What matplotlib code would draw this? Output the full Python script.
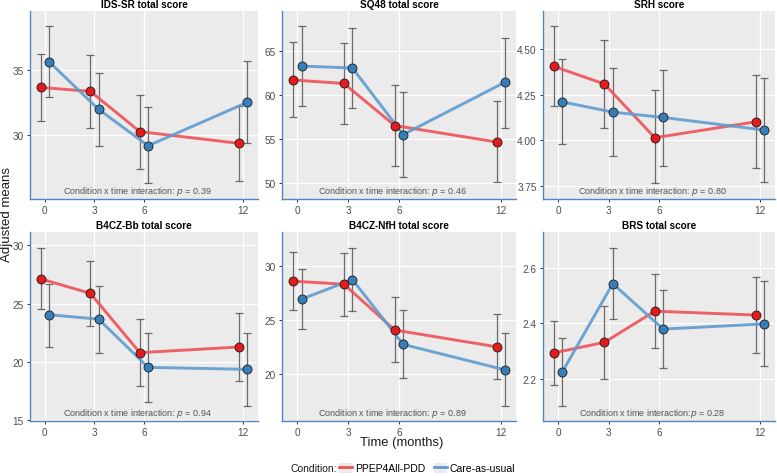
import matplotlib
matplotlib.use("Agg")
import matplotlib.pyplot as plt
from matplotlib.lines import Line2D
from matplotlib.patches import Patch
import numpy as np

plt.rcParams['font.family'] = ['Liberation Sans', 'DejaVu Sans']

times = [0, 3, 6, 12]
titles = ["IDS-SR total score", "SQ48 total score", "SRH score",
          "B4CZ-Bb total score", "B4CZ-NfH total score", "BRS total score"]
pvals = ["0.39", "0.46", "0.80", "0.94", "0.89", "0.28"]

# PPEP4All-PDD (red): mean, lower, upper
ppep_mean = [[33.65, 33.35, 30.28, 29.39],
             [61.76, 61.36, 56.58, 54.71],
             [4.404, 4.308, 4.014, 4.101],
             [27.13, 25.89, 20.80, 21.29],
             [28.60, 28.32, 24.05, 22.49],
             [2.293, 2.331, 2.444, 2.430]]
ppep_lo = [[31.1, 30.58, 27.46, 26.55],
           [57.5, 56.79, 51.98, 50.11],
           [4.187, 4.065, 3.766, 3.846],
           [24.54, 23.05, 17.93, 18.39],
           [25.92, 25.33, 21.09, 19.47],
           [2.178, 2.200, 2.310, 2.292]]
ppep_hi = [[36.19, 36.12, 33.10, 32.26],
           [66.06, 65.94, 61.17, 59.34],
           [4.627, 4.551, 4.274, 4.355],
           [29.77, 28.65, 23.68, 24.20],
           [31.31, 31.25, 27.10, 25.55],
           [2.410, 2.461, 2.577, 2.567]]
# Care-as-usual (blue)
cau_mean = [[35.61, 31.98, 29.21, 32.51],
            [63.34, 63.12, 55.56, 61.50],
            [4.210, 4.154, 4.125, 4.056],
            [24.05, 23.68, 19.54, 19.37],
            [26.92, 28.75, 22.71, 20.34],
            [2.224, 2.544, 2.379, 2.398]]
cau_lo = [[32.94, 29.19, 26.35, 29.42],
          [58.82, 58.52, 50.70, 56.34],
          [3.980, 3.913, 3.859, 3.774],
          [21.32, 20.80, 16.55, 16.21],
          [24.14, 25.79, 19.56, 16.98],
          [2.101, 2.416, 2.239, 2.244]]
cau_hi = [[38.35, 34.75, 32.18, 35.63],
          [67.94, 67.72, 60.38, 66.50],
          [4.442, 4.397, 4.386, 4.342],
          [26.70, 26.52, 22.53, 22.53],
          [29.75, 31.71, 25.89, 23.74],
          [2.347, 2.674, 2.521, 2.553]]

yticks = [[30, 35], [50, 55, 60, 65], [3.75, 4.00, 4.25, 4.50],
          [15, 20, 25, 30], [20, 25, 30], [2.2, 2.4, 2.6]]
yticklabels = [["30", "35"], ["50", "55", "60", "65"],
               ["3.75", "4.00", "4.25", "4.50"],
               ["15", "20", "25", "30"], ["20", "25", "30"],
               ["2.2", "2.4", "2.6"]]
ylims = [(25.15, 39.47), (48.23, 69.6), (3.679, 4.707),
         (14.94, 31.15), (15.58, 33.18), (2.046, 2.731)]

group_names = ["PPEP4All-PDD", "Care-as-usual"]
red_pt, blue_pt = "#E41A1C", "#377EB8"
red_ln, blue_ln = "#EE5257", "#5F9BCF"

W, H = 777, 477
fig = plt.figure(figsize=(W / 100, H / 100), dpi=100)

cols = [(30, 258), (282, 516), (543, 775)]
rows = [(12, 200), (233, 422)]

dodge = 0.25
for i in range(6):
    r, c = divmod(i, 3)
    x0, x1 = cols[c]
    yt, yb = rows[r]
    ax = fig.add_axes([x0 / W, 1 - yb / H, (x1 - x0) / W, (yb - yt) / H])
    ax.set_facecolor("#EBEBEB")
    ax.grid(True, color="white", linewidth=0.9)
    ax.set_axisbelow(True)
    for s in ["top", "right"]:
        ax.spines[s].set_visible(False)
    for s in ["left", "bottom"]:
        ax.spines[s].set_color("#4F87C2")
        ax.spines[s].set_linewidth(1.0)
    t = np.array(times, dtype=float)
    series = [(t - dodge, ppep_mean[i], ppep_lo[i], ppep_hi[i], red_pt, red_ln),
              (t + dodge, cau_mean[i], cau_lo[i], cau_hi[i], blue_pt, blue_ln)]
    for xs, m, lo, hi, pc, lc in series:
        m = np.array(m); lo = np.array(lo); hi = np.array(hi)
        ax.errorbar(xs, m, yerr=[m - lo, hi - m], fmt="none",
                    ecolor="#555555", elinewidth=0.9, capsize=3.0,
                    capthick=0.9, alpha=0.85, zorder=2)
    for xs, m, lo, hi, pc, lc in series:
        ax.plot(xs, m, color=lc, linewidth=2.1, alpha=0.9, zorder=3,
                solid_capstyle="butt")
    for xs, m, lo, hi, pc, lc in series:
        ax.plot(xs, m, linestyle="none", marker="o", markersize=6.5,
                markerfacecolor=pc, markeredgecolor="#1a1a1a",
                markeredgewidth=0.6, zorder=4)
    ax.set_xlim(-0.9, 12.9)
    ax.set_xticks(times)
    ax.set_xticklabels([str(v) for v in times])
    ax.set_ylim(*ylims[i])
    ax.set_yticks(yticks[i])
    ax.set_yticklabels(yticklabels[i])
    ax.tick_params(axis="both", labelsize=7.2, labelcolor="#4D4D4D",
                   color="#333333", length=2.5, width=0.7, pad=2)
    ax.set_title(titles[i], fontsize=7.2, fontweight="bold", pad=3)
    sep = ":" if i == 5 else ": "
    ax.text(0.47, 0.045,
            "Condition x time interaction" + sep + r"$\it{p}$ = " + pvals[i],
            transform=ax.transAxes, ha="center", va="center",
            fontsize=6.5, color="#555555")

fig.text(7 / W, 1 - 215 / H, "Adjusted means", rotation=90,
         ha="center", va="center", fontsize=9.5, color="#1a1a1a")
fig.text(402 / W, 1 - 443 / H, "Time (months)", ha="center", va="center",
         fontsize=9.4, color="#1a1a1a")

fig.text(337 / W, 1 - 469 / H, "Condition:", ha="right", va="center",
         fontsize=7.5, color="#1a1a1a")
handles = []
for lc in [red_ln, blue_ln]:
    handles.append((Patch(facecolor="#EBEBEB", edgecolor="none"),
                    Line2D([], [], color=lc, linewidth=2.0)))
fig.legend(handles, group_names, loc="center left",
           bbox_to_anchor=(337 / W, 1 - 469 / H), ncol=2, frameon=False,
           fontsize=7.5, handlelength=1.2, handleheight=1.2,
           handletextpad=0.3, columnspacing=0.9, borderpad=0.2,
           borderaxespad=0)

fig.savefig("out.png", dpi=100)
